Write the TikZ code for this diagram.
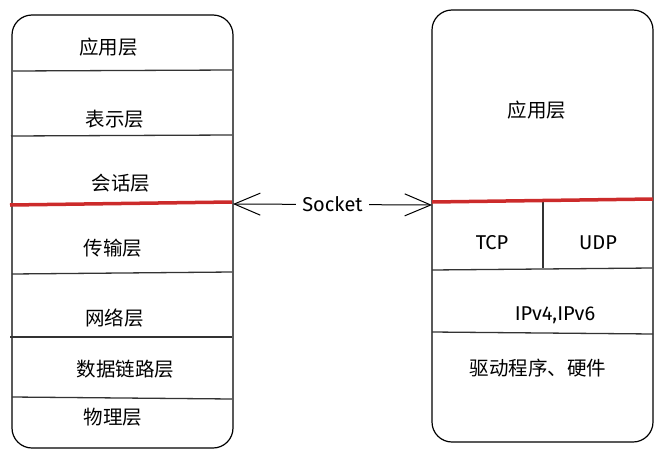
\documentclass[tikz,border=0pt]{standalone}
\usepackage{fontspec}
\setmainfont{Fira Sans}
\newfontfamily\cjk{Noto Sans CJK SC}
\usetikzlibrary{arrows.meta}
\definecolor{redline}{HTML}{CC2B2B}
\tikzset{
  stack/.style={draw=black, line width=1.2pt, rounded corners=20pt, minimum width=221pt, outer sep=0pt, inner sep=0pt},
  sep/.style={draw=black!80, line width=1.3pt},
  redsep/.style={draw=redline, line width=3.5pt},
  cn/.style={font=\cjk\fontsize{19.5}{19.5}\selectfont, inner sep=0pt},
  en/.style={font=\fontsize{20}{20}\selectfont, inner sep=0pt},
  link/.style={line width=1pt, {Straight Barb[length=26pt,width=22pt,line width=1pt]}-{Straight Barb[length=26pt,width=22pt,line width=1pt]}}
}
\begin{document}
\begin{tikzpicture}[x=1pt,y=-1pt]
\useasboundingbox (0,0) rectangle (664,466);
% left stack
\node[stack, minimum height=433pt] (L) at (122.5,231.5) {};
\draw[sep] (13,71) -- (232,70);
\draw[sep] (11,136) -- (232,135);
\draw[sep] (12,274) -- (232,272);
\draw[sep] (10,337) -- (232,337);
\draw[sep] (12,397) -- (232,399);
\draw[redsep] (10,205) -- (232,202);
\node[cn] (l1) at (108.5,47) {应用层};
\node[cn] (l2) at (115,119) {表示层};
\node[cn] (l3) at (121,183) {会话层};
\node[cn] (l4) at (113,248) {传输层};
\node[cn] (l5) at (114.5,318) {网络层};
\node[cn] (l6) at (125.5,369) {数据链路层};
\node[cn] (l7) at (113,417) {物理层};
% right stack
\node[stack, minimum height=432pt] (R) at (542.5,226) {};
\draw[sep] (543,202) -- (543,268);
\draw[sep] (432,270) -- (652,268);
\draw[sep] (432,332) -- (653,334);
\draw[redsep] (432,202) -- (653,199);
\node[cn] (r1) at (537,110) {应用层};
\node[en] (r2) at (492,243) {TCP};
\node[en] (r3) at (598,243) {UDP};
\node[en] (r4) at (555,315) {IPv4,IPv6};
\node[cn] (r5) at (538,368) {驱动程序、硬件};
% socket link
\coordinate (sa) at (233,204);
\coordinate (sb) at (432,205);
\draw[link] (sa) -- node[en, fill=white, inner xsep=6pt, inner ysep=2pt] (sock) {Socket} (sb);
\end{tikzpicture}
\end{document}
